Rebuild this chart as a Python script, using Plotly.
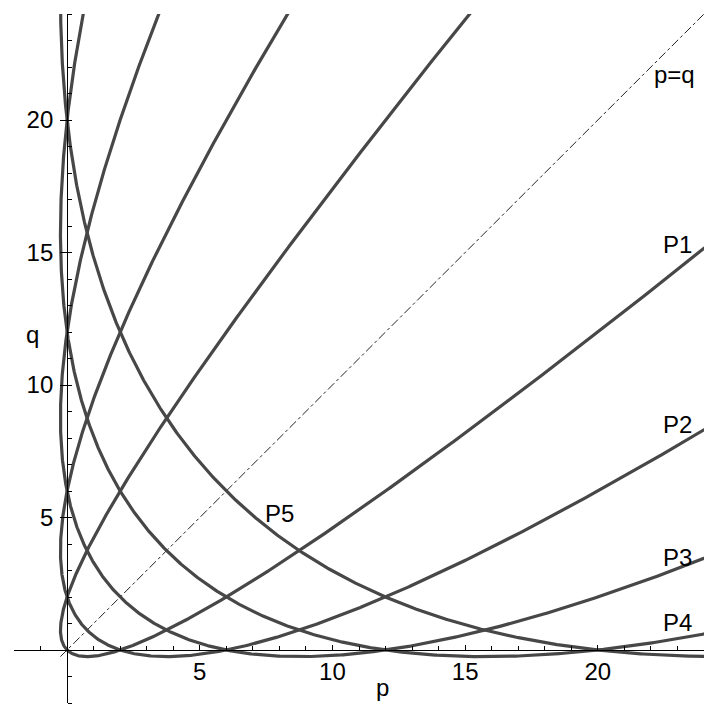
import numpy as np
import plotly.graph_objects as go

# shift k of each curve: p = t(t+1), q = (t+k)(t+k+1)
# (axis crossings: 0, 2, 6, 12, 20)
shifts = [1, 2, 3, 4, 5]
curve_names = ["P1", "P2", "P3", "P4", "P5"]
name_x = [23.0, 23.0, 23.0, 23.0, 8.0]
name_y = [15.3, 8.5, 3.5, 1.05, 5.15]

axis_range = [-2, 24]
major_ticks = [5, 10, 15, 20]
minor_ticks = list(range(-2, 25))

CURVE = "#474747"
FONT = "Liberation Sans, Arial, sans-serif"
FONT_SIZE = 24

t = np.linspace(-7.5, 6.0, 1500)

fig = go.Figure()

# diagonal p=q (the k=0 member of the family)
diag = t[t >= -0.5]
fig.add_trace(go.Scatter(
    x=diag * (diag + 1), y=diag * (diag + 1), mode="lines",
    line=dict(color="#222222", width=1, dash="dashdot"), hoverinfo="skip",
))

for k in shifts:
    fig.add_trace(go.Scatter(
        x=t * (t + 1), y=(t + k) * (t + k + 1), mode="lines",
        line=dict(color=CURVE, width=3.2), hoverinfo="skip",
    ))

label_font = dict(size=FONT_SIZE, color="black", family=FONT)
for name, x, y in zip(curve_names, name_x, name_y):
    fig.add_annotation(x=x, y=y, text=name, showarrow=False, font=label_font)

fig.add_annotation(x=22.9, y=21.7, text="p=q", showarrow=False, font=label_font)
fig.add_annotation(x=11.9, y=-1.4, text="p", showarrow=False, font=label_font)
fig.add_annotation(x=-1.3, y=11.9, text="q", showarrow=False, font=label_font)

zero_pos = (0 - axis_range[0]) / (axis_range[1] - axis_range[0])
axis_style = dict(
    range=axis_range, showgrid=False, zeroline=False, automargin=False,
    showline=True, linecolor="black", linewidth=1,
    tickmode="array", tickvals=major_ticks,
    tickcolor="black", tickwidth=1,
    tickfont=label_font,
    minor=dict(tickmode="array", tickvals=minor_ticks, ticks="inside",
               ticklen=4, tickcolor="black", tickwidth=1),
    anchor="free", position=zero_pos,
)

# the page body adds an 8px offset, so margins are reduced on top/left
fig.update_layout(
    width=720, height=714,
    margin=dict(l=6, r=24, t=6, b=19),
    plot_bgcolor="white", paper_bgcolor="white",
    showlegend=False,
    xaxis=dict(axis_style, ticks="inside", ticklen=5),
    yaxis=dict(axis_style, ticks="outside", ticklen=7, ticklabelstandoff=2),
)

fig.write_html("out.html")
